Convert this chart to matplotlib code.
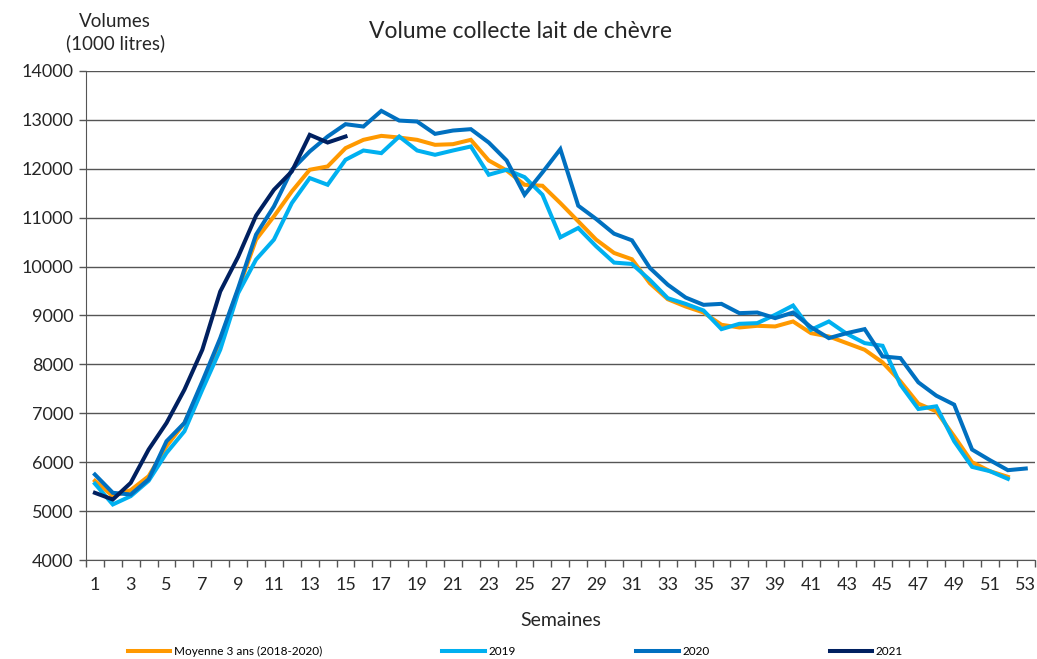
import matplotlib
matplotlib.use("Agg")
import matplotlib.pyplot as plt
import numpy as np

plt.rcParams['font.family'] = ['Lato', 'DejaVu Sans']

# weekly collected volume of goat milk (1000 litres)
weeks = np.arange(1, 54)

moyenne = [5620, 5306, 5429, 5714, 6327, 6803, 7585, 8503, 9524, 10551,
           11027, 11537, 11980, 12048, 12422, 12592, 12673, 12639, 12592, 12490,
           12503, 12592, 12170, 11966, 11673, 11653, 11299, 10925, 10551, 10279,
           10150, 9660, 9333, 9184, 9061, 8810, 8755, 8789, 8776, 8878,
           8639, 8571, 8435, 8299, 8041, 7653, 7197, 7041, 6531, 6000,
           5816, 5701]

y2019 = [5560, 5136, 5306, 5620, 6190, 6633, 7483, 8300, 9456, 10143,
         10551, 11299, 11810, 11673, 12184, 12374, 12320, 12660, 12374, 12286,
         12374, 12456, 11878, 11980, 11830, 11469, 10599, 10789, 10415, 10082,
         10054, 9728, 9354, 9238, 9102, 8721, 8830, 8844, 9014, 9204,
         8707, 8878, 8626, 8435, 8381, 7585, 7088, 7143, 6429, 5905,
         5816, 5660]

y2020 = [5748, 5374, 5340, 5650, 6429, 6803, 7653, 8537, 9558, 10653,
         11231, 11980, 12354, 12660, 12912, 12864, 13184, 12986, 12966, 12714,
         12782, 12810, 12537, 12170, 11469, 11925, 12401, 11245, 10973, 10673,
         10537, 9973, 9630, 9367, 9218, 9238, 9048, 9061, 8946, 9061,
         8762, 8537, 8639, 8721, 8163, 8129, 7633, 7361, 7177, 6259,
         6041, 5837, 5871]

y2021 = [5374, 5238, 5578, 6259, 6803, 7483, 8300, 9490, 10200, 11040,
         11571, 11946, 12694, 12537, 12660]

series = [
    ("Moyenne 3 ans (2018-2020)", moyenne, "#FF9900"),
    ("2019", y2019, "#00B0F0"),
    ("2020", y2020, "#0070C0"),
    ("2021", y2021, "#002060"),
]

txt = '#262626'

fig = plt.figure(figsize=(10.37, 6.59), dpi=100)
ax = fig.add_axes([0.0829, 0.1502, 0.9149, 0.7421])

for name, vals, col in series:
    ax.plot(weeks[:len(vals)], vals, color=col, lw=2.9, label=name,
            solid_joinstyle='miter')

ax.set_xlim(0.5, 53.5)
ax.set_ylim(4000, 14000)
ax.set_yticks(np.arange(4000, 14001, 1000))
ax.set_xticks(np.arange(1, 54, 2))
ax.set_xticks(np.arange(0.5, 54, 1), minor=True)
ax.tick_params(axis='x', which='major', length=0, pad=12, labelsize=13, colors=txt)
ax.tick_params(axis='x', which='minor', length=5, width=1, color='#555555')
ax.tick_params(axis='y', length=5, width=1, color='#555555', pad=4, labelsize=13,
               labelcolor=txt)
ax.grid(axis='y', color='#555555', lw=1)
ax.set_axisbelow(True)
for s in ['top', 'right']:
    ax.spines[s].set_visible(False)
ax.spines['left'].set_color('#555555')
ax.spines['bottom'].set_color('#555555')

fig.text(0.502, 0.952, "Volume collecte lait de chèvre", ha='center', va='center',
         fontsize=16.5, color=txt)
fig.text(0.111, 0.95, "Volumes\n(1000 litres)", ha='center', va='center',
         fontsize=13.5, color=txt, linespacing=1.3)
ax.set_xlabel("Semaines", fontsize=14, color=txt, labelpad=14)

fig.legend(loc='center', bbox_to_anchor=(0.497, 0.011), ncol=4, frameon=False,
           fontsize=8.5, handlelength=3.6, handletextpad=0.3, columnspacing=10.2)

fig.savefig("out.png", dpi=100)
